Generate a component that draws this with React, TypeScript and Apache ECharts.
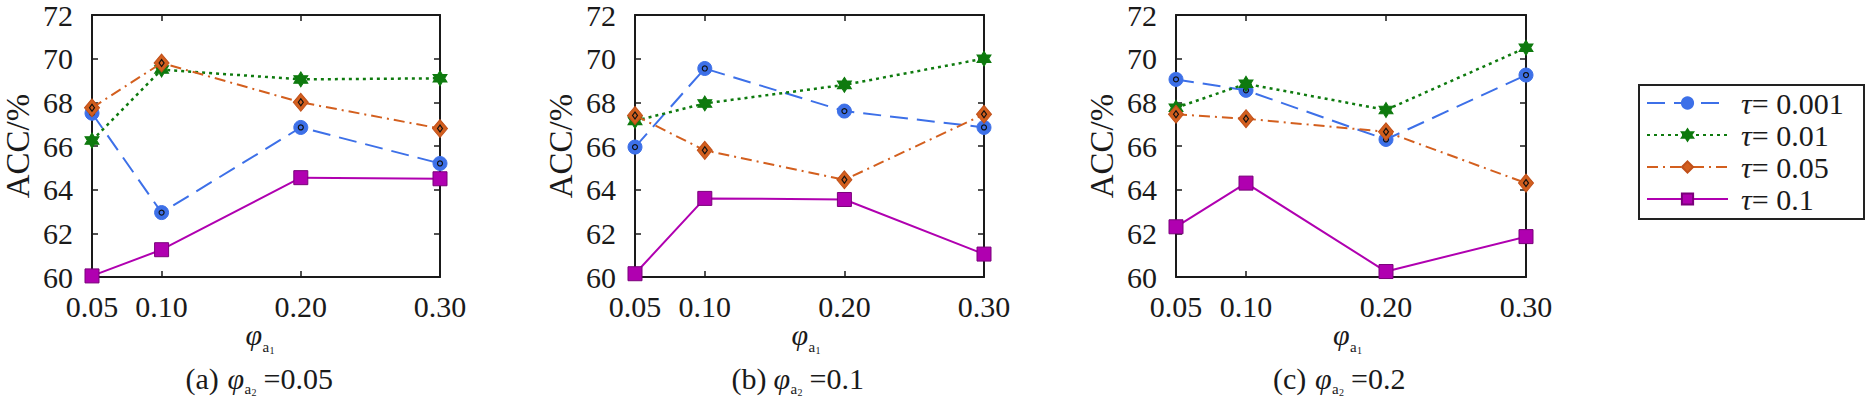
import React, { useEffect, useRef } from "react";
import * as echarts from "echarts";

// ---------- data ----------
const X_VALUES = [0.05, 0.1, 0.2, 0.3];
const SERIES_NAMES = ["τ=0.001", "τ=0.01", "τ=0.05", "τ=0.1"];
const PANEL_TAGS = ["(a)", "(b)", "(c)"];
const PANEL_PHI2 = ["=0.05", "=0.1", "=0.2"];

// panel (a) φa2 = 0.05
const A_TAU_0001 = [67.5, 62.95, 66.85, 65.2];
const A_TAU_001 = [66.25, 69.5, 69.05, 69.1];
const A_TAU_005 = [67.75, 69.8, 68.0, 66.8];
const A_TAU_01 = [60.05, 61.25, 64.55, 64.5];

// panel (b) φa2 = 0.1
const B_TAU_0001 = [65.95, 69.55, 67.6, 66.85];
const B_TAU_001 = [67.15, 67.95, 68.8, 70.0];
const B_TAU_005 = [67.4, 65.8, 64.45, 67.45];
const B_TAU_01 = [60.15, 63.6, 63.55, 61.05];

// panel (c) φa2 = 0.2
const C_TAU_0001 = [69.05, 68.55, 66.3, 69.25];
const C_TAU_001 = [67.75, 68.85, 67.65, 70.5];
const C_TAU_005 = [67.45, 67.25, 66.65, 64.3];
const C_TAU_01 = [62.3, 64.3, 60.25, 61.85];

const PANELS = [
  [A_TAU_0001, A_TAU_001, A_TAU_005, A_TAU_01],
  [B_TAU_0001, B_TAU_001, B_TAU_005, B_TAU_01],
  [C_TAU_0001, C_TAU_001, C_TAU_005, C_TAU_01],
];

// ---------- styles ----------
const FONT = "Liberation Serif";
const INK = "#1a1a1a";
const HEXAGRAM =
  "path://M0,-10 L2.9,-5 L8.66,-5 L5.8,0 L8.66,5 L2.9,5 L0,10 L-2.9,5 L-8.66,5 L-5.8,0 L-8.66,-5 L-2.9,-5 Z";

const STYLES = [
  { color: "#3D70E8", dash: [18, 9] as any, width: 2, symbol: "circle", size: 14, border: "#3D70E8", inner: "circle", innerSize: 5 },
  { color: "#0E7A0E", dash: [3, 4] as any, width: 2.5, symbol: HEXAGRAM, size: [14, 15], border: "#0E7A0E", inner: null, innerSize: 0 },
  { color: "#D35F1E", dash: [11, 5, 2, 5] as any, width: 2, symbol: "diamond", size: [15, 18], border: "#C0501A", inner: "diamond", innerSize: [5, 7] },
  { color: "#B000B0", dash: "solid" as any, width: 2, symbol: "rect", size: 14, border: "#7A007A", inner: null, innerSize: 0 },
];

const GRIDS = [
  { left: 87, top: 14, width: 353, height: 263 },
  { left: 635, top: 14, width: 349, height: 263 },
  { left: 1176, top: 14, width: 350, height: 263 },
];

function isTick(v: number) {
  return X_VALUES.some((x) => Math.abs(x - v) < 1e-6);
}

function buildOption() {
  const xAxis: any[] = [];
  const yAxis: any[] = [];
  const series: any[] = [];
  const graphic: any[] = [];

  GRIDS.forEach((g, i) => {
    const axisLine = { show: true, onZero: false, lineStyle: { color: INK, width: 2 } };
    const tick = { show: true, inside: true, length: 6, customValues: X_VALUES, lineStyle: { color: INK, width: 1.5 } };
    xAxis.push({
      type: "value",
      gridIndex: i,
      position: "bottom",
      min: 0.05,
      max: 0.3,
      interval: 0.05,
      axisLine,
      axisTick: tick,
      splitLine: { show: false },
      axisLabel: {
        customValues: X_VALUES,
        formatter: (v: number) => (isTick(v) ? v.toFixed(2) : ""),
        fontFamily: FONT,
        fontSize: 30,
        color: INK,
        margin: 14,
      },
    });
    xAxis.push({
      type: "value",
      gridIndex: i,
      position: "top",
      min: 0.05,
      max: 0.3,
      interval: 0.05,
      axisLine,
      axisTick: tick,
      splitLine: { show: false },
      axisLabel: { show: false },
    });
    const yTick = { show: true, inside: true, length: 6, lineStyle: { color: INK, width: 1.5 } };
    yAxis.push({
      type: "value",
      gridIndex: i,
      position: "left",
      min: 60,
      max: 72,
      interval: 2,
      axisLine,
      axisTick: yTick,
      splitLine: { show: false },
      axisLabel: { fontFamily: FONT, fontSize: 30, color: INK, margin: 19 },
      name: "ACC/%",
      nameLocation: "middle",
      nameGap: 58,
      nameTextStyle: { fontFamily: FONT, fontSize: 33, color: INK },
    });
    yAxis.push({
      type: "value",
      gridIndex: i,
      position: "right",
      min: 60,
      max: 72,
      interval: 2,
      axisLine,
      axisTick: yTick,
      splitLine: { show: false },
      axisLabel: { show: false },
    });

    PANELS[i].forEach((vals, k) => {
      const s = STYLES[k];
      const data = X_VALUES.map((x, j) => [x, vals[j]]);
      series.push({
        type: "line",
        name: SERIES_NAMES[k],
        xAxisIndex: i * 2,
        yAxisIndex: i * 2,
        data,
        symbol: s.symbol,
        symbolSize: s.size,
        showSymbol: true,
        lineStyle: { color: s.color, width: s.width, type: s.dash },
        itemStyle: { color: s.color, borderColor: s.border, borderWidth: 1 },
        z: 2 + k,
        silent: true,
      });
      if (s.inner) {
        series.push({
          type: "line",
          name: "inner" + k,
          xAxisIndex: i * 2,
          yAxisIndex: i * 2,
          data,
          symbol: s.inner,
          symbolSize: s.innerSize,
          lineStyle: { opacity: 0, width: 0 },
          itemStyle: { color: "rgba(0,0,0,0)", borderColor: "#111", borderWidth: 1.2 },
          z: 2 + k,
          silent: true,
        });
      }
    });

    const cx = g.left + g.width / 2;
    // x-axis name φ_{a_1}
    graphic.push(
      { type: "text", x: cx - 18, y: 334, style: { text: "φ", fontFamily: FONT, fontStyle: "italic", fontSize: 30, fill: INK, verticalAlign: "middle", align: "left" } },
      { type: "text", x: cx - 1, y: 347, style: { text: "a", fontFamily: FONT, fontSize: 15, fill: INK, verticalAlign: "middle", align: "left" } },
      { type: "text", x: cx + 6, y: 350, style: { text: "1", fontFamily: FONT, fontSize: 10, fill: INK, verticalAlign: "middle", align: "left" } }
    );
    // caption
    graphic.push(
      { type: "text", x: cx - 78, y: 378, style: { text: PANEL_TAGS[i] + " ", fontFamily: FONT, fontSize: 30, fill: INK, verticalAlign: "middle", align: "left" } },
      { type: "text", x: cx - 36, y: 378, style: { text: "φ", fontFamily: FONT, fontStyle: "italic", fontSize: 30, fill: INK, verticalAlign: "middle", align: "left" } },
      { type: "text", x: cx - 19, y: 389, style: { text: "a", fontFamily: FONT, fontSize: 15, fill: INK, verticalAlign: "middle", align: "left" } },
      { type: "text", x: cx - 12, y: 392, style: { text: "2", fontFamily: FONT, fontSize: 10, fill: INK, verticalAlign: "middle", align: "left" } },
      { type: "text", x: cx + 0, y: 378, style: { text: PANEL_PHI2[i], fontFamily: FONT, fontSize: 30, fill: INK, verticalAlign: "middle", align: "left" } }
    );
  });

  // legend frame
  graphic.push({
    type: "rect",
    shape: { x: 1639, y: 85, width: 225, height: 134 },
    style: { fill: "#fff", stroke: "#222", lineWidth: 2 },
    z: -1,
  });

  return {
    animation: false,
    backgroundColor: "#fff",
    textStyle: { fontFamily: FONT, color: INK },
    grid: GRIDS.map((g) => ({ ...g, containLabel: false })),
    xAxis,
    yAxis,
    series,
    graphic,
    legend: {
      data: SERIES_NAMES,
      orient: "vertical",
      left: 1646,
      top: 87,
      padding: 0,
      itemWidth: 81,
      itemHeight: 14,
      itemGap: 0,
      selectedMode: false,
      formatter: (name: string) => `{t|τ}{n|= ${name.split("=")[1]}}`,
      textStyle: {
        fontFamily: FONT,
        fontSize: 30,
        color: INK,
        lineHeight: 32,
        rich: {
          t: { fontFamily: FONT, fontStyle: "italic", fontSize: 30, lineHeight: 32, padding: [0, 0, 0, 8], color: INK },
          n: { fontFamily: FONT, fontSize: 30, lineHeight: 32, color: INK },
        },
      },
      z: 10,
    },
  };
}

const CSS = `.chart-host svg text { font-family: "Liberation Serif", "Times New Roman", serif !important; }`;

export default function App() {
  const ref = useRef<HTMLDivElement>(null);
  useEffect(() => {
    if (!ref.current) return;
    const chart = echarts.init(ref.current, undefined, { renderer: "svg" });
    chart.setOption(buildOption() as any);
    return () => chart.dispose();
  }, []);
  return (
    <>
      <style>{CSS}</style>
      <div
        ref={ref}
        className="chart-host"
        style={{ position: "absolute", left: 0, top: 0, width: 1867, height: 396, background: "#fff" }}
      />
    </>
  );
}
